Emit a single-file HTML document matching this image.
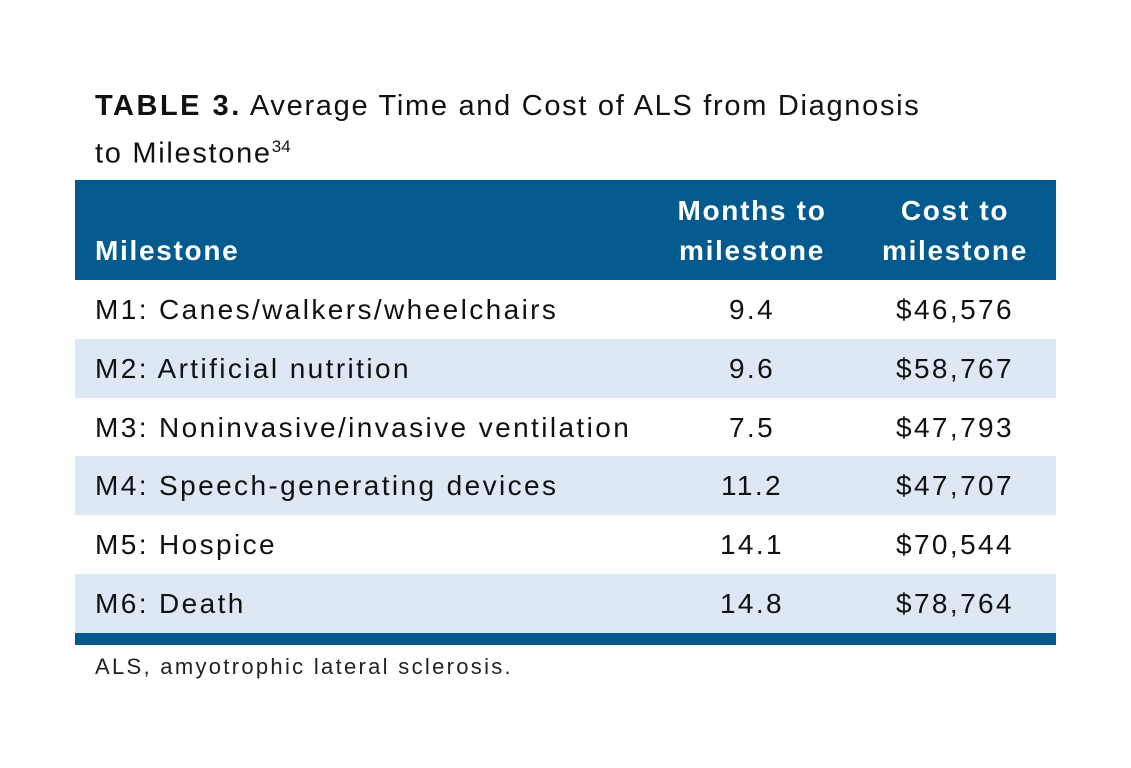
<!DOCTYPE html>
<html><head><meta charset="utf-8"><style>
body{margin:0;width:1131px;height:768px;background:#fff;position:relative;font-family:"Liberation Sans",sans-serif;color:#111;overflow:hidden}
.a{position:absolute;white-space:nowrap}
.t{font-size:29px;letter-spacing:1.7px}
.hdr{position:absolute;left:75px;top:180px;width:981px;height:100px;background:#035a8e}
.h{color:#fff;font-weight:bold;font-size:28px;line-height:40px;text-align:center;letter-spacing:1.7px}
.row{position:absolute;left:75px;width:981px;height:59px}
.c{position:absolute;font-size:28px;line-height:59px;letter-spacing:2.4px}
</style></head><body>
<div class="a t" style="left:95px;top:88px;line-height:36px"><b style="letter-spacing:2.5px">TABLE 3.</b> Average Time and Cost of ALS from Diagnosis</div>
<div class="a t" style="left:95px;top:129px;line-height:36px">to Milestone<sup style="font-size:17px;letter-spacing:0">34</sup></div>
<div class="hdr">
<div class="a h" style="left:20px;top:51px;text-align:left">Milestone</div>
<div class="a h" style="left:577px;width:200px;top:11px">Months to<br>milestone</div>
<div class="a h" style="left:780px;width:200px;top:11px">Cost to<br>milestone</div>
</div>
<div id="rows"></div>
<div class="a" style="left:75px;top:633px;width:981px;height:12px;background:#035a8e"></div>
<div class="a" style="left:95px;top:654px;font-size:22px;letter-spacing:2.3px;color:#222">ALS, amyotrophic lateral sclerosis.</div>
<script>
const milestones=["M1: Canes/walkers/wheelchairs","M2: Artificial nutrition","M3: Noninvasive/invasive ventilation","M4: Speech-generating devices","M5: Hospice","M6: Death"];
const months=["9.4","9.6","7.5","11.2","14.1","14.8"];
const costs=["$46,576","$58,767","$47,793","$47,707","$70,544","$78,764"];
const cont=document.getElementById('rows');
milestones.forEach((m,i)=>{
const r=document.createElement('div');
r.className='row';


r.style.top=(280+i*58.8)+'px';
r.style.background=i%2?'#dde8f4':'#fff';
r.innerHTML='<div class="c" style="left:20px">'+m+'</div><div class="c" style="left:577px;width:200px;text-align:center">'+months[i]+'</div><div class="c" style="left:780px;width:200px;text-align:center">'+costs[i]+'</div>';
cont.appendChild(r);
});
</script>
</body></html>
